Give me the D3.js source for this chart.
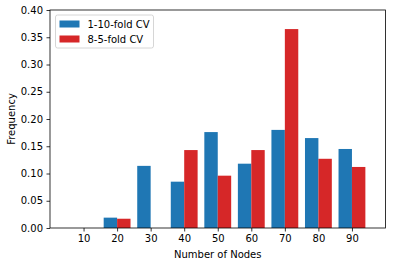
<!DOCTYPE html>
<html>
<head>
<meta charset="utf-8">
<script src="https://cdn.jsdelivr.net/npm/d3@7"></script>
<style>
  body { margin: 0; background: #fff; }
  svg { display: block; font-family: "DejaVu Sans", sans-serif; }
</style>
</head>
<body>
<div id="vis"></div>
<script>

const FRAME_WIDTH = 395;
const FRAME_HEIGHT = 266;
const MARGINS = {left: 50, right: 9.5, top: 10, bottom: 38};

// number of nodes
const nodes = [10, 20, 30, 40, 50, 60, 70, 80, 90];
const cv10 = [0, 0.019, 0.114, 0.085, 0.176, 0.118, 0.180, 0.165, 0.145];
const cv5 = [0, 0.017, 0, 0.143, 0.096, 0.143, 0.365, 0.127, 0.112];
const yTicks = [0, 0.05, 0.10, 0.15, 0.20, 0.25, 0.30, 0.35, 0.40];
const seriesNames = ["1-10-fold CV", "8-5-fold CV"];
const colors = ["#1f77b4", "#d62728"];

const VIS_WIDTH = FRAME_WIDTH - MARGINS.left - MARGINS.right;
const VIS_HEIGHT = FRAME_HEIGHT - MARGINS.top - MARGINS.bottom;
const BAR_W = 4;

const svg = d3.select("#vis")
  .append("svg")
    .attr("width", FRAME_WIDTH)
    .attr("height", FRAME_HEIGHT);

const X_SCALE = d3.scaleLinear().domain([0, 100]).range([0, VIS_WIDTH]);
const Y_SCALE = d3.scaleLinear().domain([0, 0.4]).range([VIS_HEIGHT, 0]);

const g = svg.append("g")
  .attr("transform", "translate(" + MARGINS.left + "," + MARGINS.top + ")");

// bars
[cv10, cv5].forEach((vals, s) => {
  g.selectAll(".bar" + s)
    .data(vals)
    .enter()
    .append("rect")
      .attr("x", (d, i) => X_SCALE(nodes[i] + (s - 1) * BAR_W))
      .attr("width", X_SCALE(BAR_W) - X_SCALE(0))
      .attr("y", (d) => Y_SCALE(d))
      .attr("height", (d) => VIS_HEIGHT - Y_SCALE(d))
      .attr("fill", colors[s]);
});

// axes
const xAxis = g.append("g")
  .attr("transform", "translate(0," + VIS_HEIGHT + ")")
  .call(d3.axisBottom(X_SCALE).tickValues(nodes).tickSize(3.5).tickPadding(3.5));
const yAxis = g.append("g")
  .call(d3.axisLeft(Y_SCALE).tickValues(yTicks).tickSize(3.5).tickPadding(3.5)
    .tickFormat(d3.format(".2f")));

[xAxis, yAxis].forEach(a => {
  a.attr("font-size", "10px").attr("font-family", "DejaVu Sans, sans-serif");
  a.select(".domain").remove();
  a.selectAll("line").attr("stroke", "#000").attr("stroke-width", 0.8);
  a.selectAll("text").attr("fill", "#000");
});

// frame
g.append("rect")
  .attr("width", VIS_WIDTH)
  .attr("height", VIS_HEIGHT)
  .attr("fill", "none")
  .attr("stroke", "#000")
  .attr("stroke-width", 0.8);

// axis labels
svg.append("text")
  .attr("x", MARGINS.left + VIS_WIDTH / 2)
  .attr("y", 258)
  .attr("text-anchor", "middle")
  .attr("font-size", "10px")
  .text("Number of Nodes");

svg.append("text")
  .attr("transform", "translate(15," + (MARGINS.top + VIS_HEIGHT / 2) + ") rotate(-90)")
  .attr("text-anchor", "middle")
  .attr("font-size", "10px")
  .text("Frequency");

// legend
const legend = svg.append("g").attr("transform", "translate(55.5,15)");
legend.append("rect")
  .attr("width", 98)
  .attr("height", 33)
  .attr("rx", 2)
  .attr("fill", "#fff")
  .attr("fill-opacity", 0.8)
  .attr("stroke", "#ccc")
  .attr("stroke-width", 0.8);

seriesNames.forEach((name, i) => {
  legend.append("rect")
    .attr("x", 4)
    .attr("y", 5.5 + i * 15)
    .attr("width", 20)
    .attr("height", 7)
    .attr("fill", colors[i]);
  legend.append("text")
    .attr("x", 32)
    .attr("y", 12.5 + i * 15)
    .attr("font-size", "10px")
    .text(name);
});

</script>
</body>
</html>
